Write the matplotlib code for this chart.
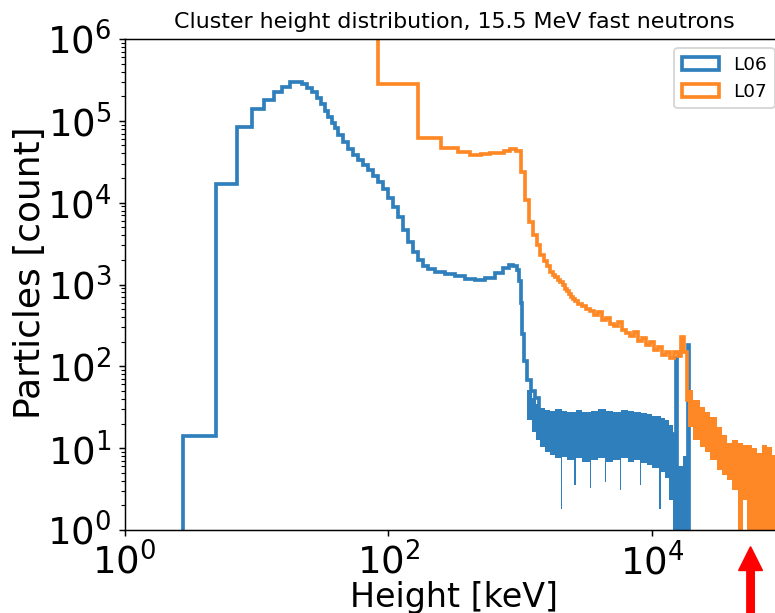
import numpy as np
import matplotlib
matplotlib.use("Agg")
import matplotlib.pyplot as plt
from matplotlib.patches import Patch
from matplotlib.ticker import NullLocator, FixedLocator, LogLocator

# ---------------- L06 (blue) ----------------
l06_low_edges = [2.79, 4.95, 7.18, 9.24, 11.45, 13.7, 15.77, 17.85, 20.0, 22.15,
                 24.3, 26.45, 28.6, 30.75, 32.9, 35.05, 37.2, 39.35, 41.5]
l06_low_counts = [14, 16800, 85000, 138000, 180000, 223000, 262000, 297000, 302000,
                  285000, 255000, 222000, 192000, 162000, 133000, 111000, 94000, 82000]
l06_mid_edges = [45.5, 49.7, 54.2, 59.2, 64.6, 70.5, 76.9, 84.0, 91.6, 100, 109.1, 119.1,
                 130.0, 141.8, 154.8, 168.9, 184.4, 201.2, 227.4, 270.8, 322.4, 384.0,
                 457.4, 544.8, 648.9, 746.3, 828.6, 888.8, 953.0, 986.9, 1013, 1040,
                 1077, 1135, 1217, 1305, 1400]
l06_mid_counts = [68000, 55000, 45000, 38000, 33000, 28500, 24800, 21300, 17700, 14500,
                  11500, 8800, 6600, 4600, 3300, 2480, 1970, 1680, 1530, 1440, 1350, 1270,
                  1170, 1120, 1200, 1380, 1600, 1720, 1700, 1500, 1100, 600, 250, 115,
                  68, 50, 41]
l06_band_level = 15
l06_tail_edges = [14562, 15346, 15615, 18924, 19259]
l06_tail_counts = [4, 126, 4, 180]
# noisy plateau: upper / lower envelope of the fluctuating bins
l06_band_x = [1135, 1239, 1328, 1425, 1555, 1697, 1852, 2038, 2093, 2284, 2581, 2650,
              2969, 3384, 3474, 3926, 4398, 4513, 5104, 5716, 5868, 6632, 7367, 8109,
              8324, 9244, 10088, 11301, 11703, 12663, 13578, 14562]
l06_band_top = [51, 41, 35, 31, 29, 28.5, 30, 30, 28.5, 27.7, 27.7, 29, 27.7, 27.7, 28.5,
                30, 30, 28.5, 27.7, 27.7, 29, 28.5, 27.7, 27.7, 26.9, 26.2, 24.7, 24.7,
                23.4, 22.1, 19.2]
l06_band_bottom = [22, 15.8, 12.6, 10.3, 9.0, 8.3, 7.6, 1.8, 7.8, 7.2, 3.5, 7.6, 6.8, 3.3,
                   7.2, 7.6, 3.9, 6.8, 7.2, 3.1, 7.6, 6.8, 7.2, 3.5, 6.6, 6.2, 5.7, 1.8,
                   5.1, 4.3, 2.3]
l06_gap_x = [14562, 15890, 17345, 18924]
l06_gap_top = [8.7, 6, 8]

# ---------------- L07 (orange) ----------------
l07_fine_edges = [0, 84, 168, 252, 336, 420, 504, 588, 672, 756, 840, 924, 1008, 1092,
                  1176, 1260, 1344, 1428, 1512, 1596, 1680, 1764, 1848, 1932, 2016, 2100,
                  2184, 2268, 2352, 2436, 2520, 2604]
l07_fine_counts = [2.5e6, 280000, 62000, 47000, 42000, 38300, 39400, 40100, 40800, 42500,
                   44900, 43200, 24000, 10800, 5800, 4000, 3000, 2300, 1940, 1670, 1420,
                   1310, 1240, 1140, 1070, 990, 880, 830, 770, 710, 670]
l07_coarse_edges = [2767, 2969, 3183, 3415, 3661, 3926, 4210, 4513, 4842, 5193, 5568,
                    5972, 6405, 6868, 7367, 7898, 8472, 9085, 9741, 10447, 11202, 12013,
                    12885, 13815, 14818, 15890, 16748, 17650, 18437, 18924]
l07_coarse_counts = [630, 578, 546, 502, 475, 424, 461, 368, 390, 329, 311, 348, 278, 255,
                     235, 263, 204, 222, 182, 198, 158, 172, 138, 150, 126, 150, 134, 228,
                     150, 39]
l07_band_x = [18924, 20654, 23343, 25474, 27797, 31424, 34287, 37421, 40832, 45340, 49490,
              52610, 57913, 63195, 68965, 75257, 82135, 88102, 100000]
l07_band_top = [51, 39, 32, 28, 24, 18, 14.5, 11.6, 12.6, 11.6, 10.9, 10.9, 10.0, 8.7,
                10.9, 10.3, 8.3, 7.2]
l07_band_bottom = [18, 12.6, 10.3, 9.0, 7.2, 5.4, 4.7, 4.1, 3.1, 0, 2.3, 0, 0, 0, 0, 0,
                   0, 0]

labels = ["L06", "L07"]
title = "Cluster height distribution, 15.5 MeV fast neutrons"
x_ticks = [1, 100, 1e4]
y_ticks = [1, 10, 100, 1e3, 1e4, 1e5, 1e6]
arrow_x = 5.6e4

c06 = "#2f7fbc"
c07 = "#ff8826"
lw = 2.0
FLOOR = 0.3    # zero counts drawn just below the log axis
XFLOOR = 0.5   # zero-energy edge drawn just left of the log axis

DPI = 133
fig = plt.figure(figsize=(775 / DPI, 613 / DPI), dpi=DPI)
ax = fig.add_axes([124.5 / 775, 83 / 613, 659.25 / 775, 491 / 613])
ax.set_xscale("log")
ax.set_yscale("log")


def yf(v):
    return np.maximum(np.asarray(v, dtype=float), FLOOR)


def xf(v):
    return np.maximum(np.asarray(v, dtype=float), XFLOOR)


# L06
e06 = [1.0] + l06_low_edges + l06_mid_edges + l06_tail_edges
v06 = [0] + l06_low_counts + l06_mid_counts + [l06_band_level] + l06_tail_counts
ax.stairs(yf(l06_band_top), l06_band_x, baseline=yf(l06_band_bottom), fill=True,
          color=c06, lw=0)
ax.stairs(yf(l06_gap_top), l06_gap_x, baseline=FLOOR, fill=True, color=c06, lw=0)
ax.stairs(yf(v06), xf(e06), baseline=FLOOR, fill=False, color=c06, lw=lw)

# L07
e07 = l07_fine_edges + l07_coarse_edges
v07 = l07_fine_counts + l07_coarse_counts
ax.stairs(yf(l07_band_top), l07_band_x, baseline=yf(l07_band_bottom), fill=True,
          color=c07, lw=0)
ax.stairs(yf(v07), xf(e07), baseline=None, fill=False, color=c07, lw=lw)

ax.set_xlim(1, 1e5)
ax.set_ylim(1, 1e6)
ax.xaxis.set_major_locator(FixedLocator(x_ticks))
ax.xaxis.set_minor_locator(NullLocator())
ax.yaxis.set_major_locator(FixedLocator(y_ticks))
ax.yaxis.set_minor_locator(LogLocator(subs=np.arange(2, 10)))
ax.tick_params(labelsize=20)
ax.set_xlabel("Height [keV]", fontsize=18, labelpad=-0.8)
ax.set_ylabel("Particles [count]", fontsize=19.5)
ax.yaxis.set_label_coords(-0.118, 0.525)
ax.set_title(title, fontsize=12)

handles = [Patch(facecolor="none", edgecolor=c06, lw=lw),
           Patch(facecolor="none", edgecolor=c07, lw=lw)]
ax.legend(handles, labels, loc="upper right", fontsize=10)

ax.annotate("", xy=(arrow_x, -0.035), xycoords=("data", "axes fraction"),
            xytext=(arrow_x, -0.3), textcoords=("data", "axes fraction"),
            arrowprops=dict(facecolor="red", edgecolor="red", width=3.8,
                            headwidth=12.5, headlength=12.5, shrink=0),
            annotation_clip=False)

fig.savefig("out.png", dpi=DPI)
